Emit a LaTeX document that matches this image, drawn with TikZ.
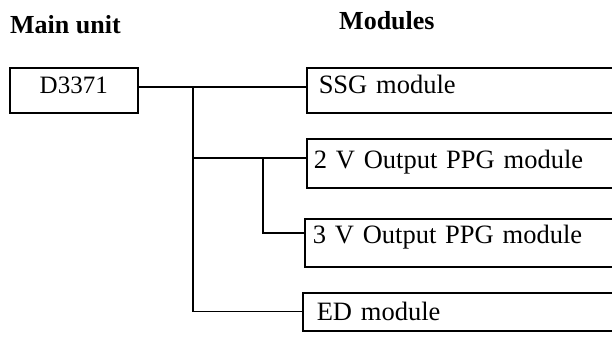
\documentclass[tikz,border=0pt]{standalone}
\usepackage{fontspec}
\setmainfont{Liberation Serif}
\begin{document}
\begin{tikzpicture}[x=1pt,y=-1pt,
  lbl/.style={font=\fontsize{26.5}{30}\selectfont},
  head/.style={font=\fontsize{26}{30}\selectfont\bfseries, inner sep=0pt, anchor=base west},
  modbox/.style={draw, line width=1.5pt, anchor=north west, align=left,
    font=\fontsize{26.5}{30}\selectfont, text height=18pt, inner ysep=8pt},
  wire/.style={line width=1.4pt}]
\clip (0,0) rectangle (612,340);
\fill[white] (0,0) rectangle (612,340);
% headings
\node[head] (hmain) at (10,33) {Main unit};
\node[head] (hmod) at (339,29) {Modules};
% main unit
\node[draw, line width=1.5pt, anchor=north west, minimum width=128pt,
  font=\fontsize{25}{30}\selectfont, text height=18pt, text depth=11pt,
  inner ysep=8pt, inner xsep=0pt] (d3371) at (9,67) {D3371};
% modules
\node[modbox, inner xsep=12pt, text width=388pt, text depth=11pt] (ssg) at (306,67) {SSG module};
\node[modbox, inner xsep=7pt, text width=393pt, text depth=11pt, text height=22pt] (v2) at (306,138) {2 V Output PPG module};
\node[modbox, inner xsep=8pt, text width=392pt, text depth=15pt, text height=17pt] (v3) at (304,218) {3 V Output PPG module};
\node[modbox, inner xsep=14pt, text width=386pt, text depth=2pt, text height=20pt] (ed) at (302,292) {ED module};
% junctions
\coordinate (j1) at (193,87);
\coordinate (j2) at (193,158);
\coordinate (j3) at (263,158);
\coordinate (j4) at (263,233);
% connectors
\draw[wire] (d3371.east |- j1) -- (ssg.west |- j1);
\draw[wire] (j1) |- (ed.west);
\draw[wire] (j2) -- (v2.west |- j2);
\draw[wire] (j3) -- (j4) -- (v3.west |- j4);
\end{tikzpicture}
\end{document}
